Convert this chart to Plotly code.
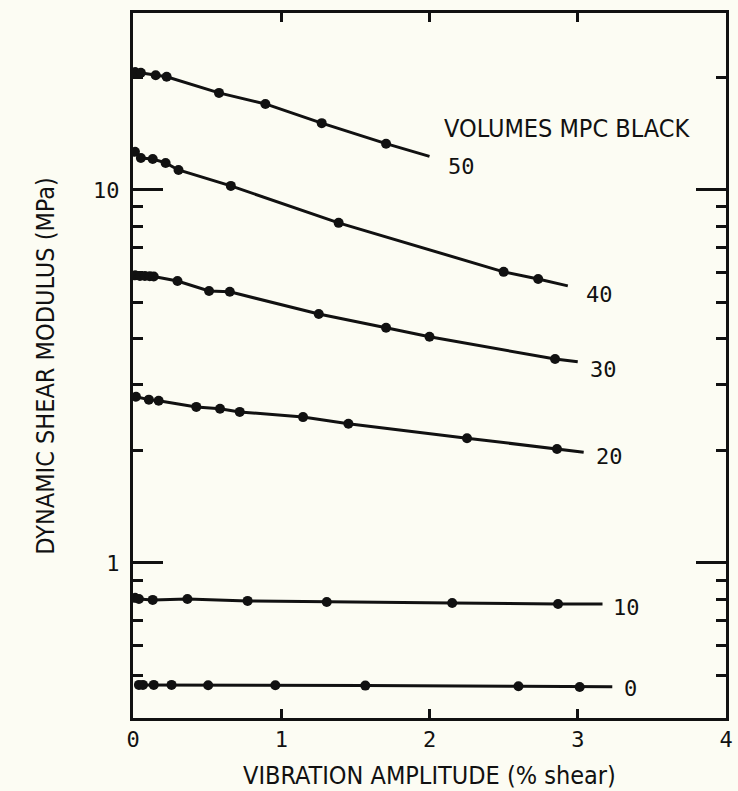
import math
import plotly.graph_objects as go

# ---- data ----
series_names = ["50", "40", "30", "20", "10", "0"]

x50 = [0.013, 0.053, 0.153, 0.227, 0.58, 0.893, 1.273, 1.707]
y50 = [20.7, 20.6, 20.3, 20.1, 18.2, 17.0, 15.1, 13.3]

x40 = [0.013, 0.053, 0.133, 0.22, 0.307, 0.66, 1.387, 2.5, 2.733]
y40 = [12.65, 12.18, 12.1, 11.81, 11.31, 10.25, 8.16, 6.03, 5.77]

x30 = [0.013, 0.047, 0.08, 0.113, 0.14, 0.3, 0.513, 0.653, 1.253, 1.707, 2.0, 2.847]
y30 = [5.90, 5.88, 5.88, 5.87, 5.86, 5.70, 5.36, 5.33, 4.65, 4.27, 4.04, 3.52]

x20 = [0.02, 0.107, 0.173, 0.427, 0.587, 0.72, 1.147, 1.453, 2.253, 2.86]
y20 = [2.79, 2.74, 2.72, 2.62, 2.59, 2.54, 2.46, 2.36, 2.16, 2.02]

x10 = [0.013, 0.04, 0.133, 0.367, 0.773, 1.307, 2.153, 2.867]
y10 = [0.806, 0.80, 0.796, 0.80, 0.791, 0.786, 0.781, 0.776]

x0 = [0.04, 0.067, 0.14, 0.26, 0.507, 0.96, 1.567, 2.6, 3.013]
y0 = [0.471, 0.471, 0.471, 0.471, 0.470, 0.470, 0.469, 0.467, 0.465]

# where each drawn line ends (beyond the last point)
line_end_x = [2.0, 2.933, 3.0, 3.04, 3.167, 3.233]
line_end_y = [12.3, 5.53, 3.46, 1.98, 0.776, 0.466]

x_ticks = [0, 1, 2, 3, 4]
y_major = [1, 10]
y_minor = [0.5, 0.6, 0.7, 0.8, 0.9, 2, 3, 4, 5, 6, 7, 8, 9, 20]

legend_title = "VOLUMES MPC BLACK"
legend_pos = (2.087, 14.6)
x_title = "VIBRATION AMPLITUDE (% shear)"
y_title = "DYNAMIC SHEAR MODULUS (MPa)"

# ---- style ----
TEXT_FONT = "DejaVu Sans Condensed, Liberation Sans Narrow, Liberation Sans, sans-serif"
NUM_FONT = "DejaVu Sans Mono, Liberation Mono, monospace"
INK = "#111111"
BG = "#fcfcf3"
label_shift = [(16, -10), (16, -9), (10, -8), (10, -4), (8, -3), (10, -2)]

xs = [x50, x40, x30, x20, x10, x0]
ys = [y50, y40, y30, y20, y10, y0]

fig = go.Figure()
for i, name in enumerate(series_names):
    lx = xs[i] + [line_end_x[i]]
    ly = ys[i] + [line_end_y[i]]
    fig.add_trace(go.Scatter(x=lx, y=ly, mode="lines",
                             line=dict(color=INK, width=3),
                             showlegend=False, hoverinfo="skip"))
    fig.add_trace(go.Scatter(x=xs[i], y=ys[i], mode="markers",
                             marker=dict(color=INK, size=10),
                             showlegend=False, name=name))
    fig.add_annotation(x=line_end_x[i], y=math.log10(line_end_y[i]),
                       xref="x", yref="y",
                       text=name, showarrow=False, xanchor="left",
                       xshift=label_shift[i][0], yshift=label_shift[i][1],
                       font=dict(family=NUM_FONT, size=22, color=INK))

fig.add_annotation(x=legend_pos[0], y=math.log10(legend_pos[1]), xref="x", yref="y",
                   text=legend_title, showarrow=False, xanchor="left",
                   font=dict(family=TEXT_FONT, size=25, color=INK))

fig.add_annotation(x=0.5, y=-0.058, xref="paper", yref="paper", text=x_title,
                   showarrow=False, xanchor="center", yanchor="top",
                   font=dict(family=TEXT_FONT, size=25, color=INK))
fig.add_annotation(x=-0.148, y=0.5, xref="paper", yref="paper", text=y_title,
                   showarrow=False, textangle=-90, xanchor="center", yanchor="middle",
                   font=dict(family=TEXT_FONT, size=25, color=INK))

fig.update_layout(
    width=738, height=791,
    margin=dict(l=133, r=5, t=13, b=73),
    paper_bgcolor=BG, plot_bgcolor=BG,
    font=dict(family=TEXT_FONT, size=21, color=INK),
    showlegend=False,
)
fig.update_xaxes(range=[0, 4], tickvals=x_ticks, ticktext=[str(v) for v in x_ticks],
                 showgrid=False, zeroline=False, showline=True, linecolor=INK,
                 linewidth=3, mirror="ticks", ticks="inside", ticklen=9,
                 tickwidth=3, tickcolor=INK, tickfont=dict(family=NUM_FONT, size=22),
                 ticklabeloverflow="allow")
fig.update_yaxes(type="log", range=[-0.4157, 1.4742], tickvals=y_major,
                 ticktext=[str(v) for v in y_major],
                 showgrid=False, zeroline=False, showline=True, linecolor=INK,
                 linewidth=3, mirror="ticks", ticks="inside", ticklen=30,
                 tickwidth=3, tickcolor=INK, tickfont=dict(family=NUM_FONT, size=22),
                 ticklabelstandoff=6,
                 minor=dict(tickmode="array", tickvals=y_minor, ticks="inside",
                            ticklen=10, tickwidth=3, tickcolor=INK, showgrid=False))

fig.write_html(
    "out.html",
    config={"displayModeBar": False},
    post_script="document.body.style.margin='0';document.body.style.overflow='hidden';"
                "document.body.style.background='" + BG + "';",
)
